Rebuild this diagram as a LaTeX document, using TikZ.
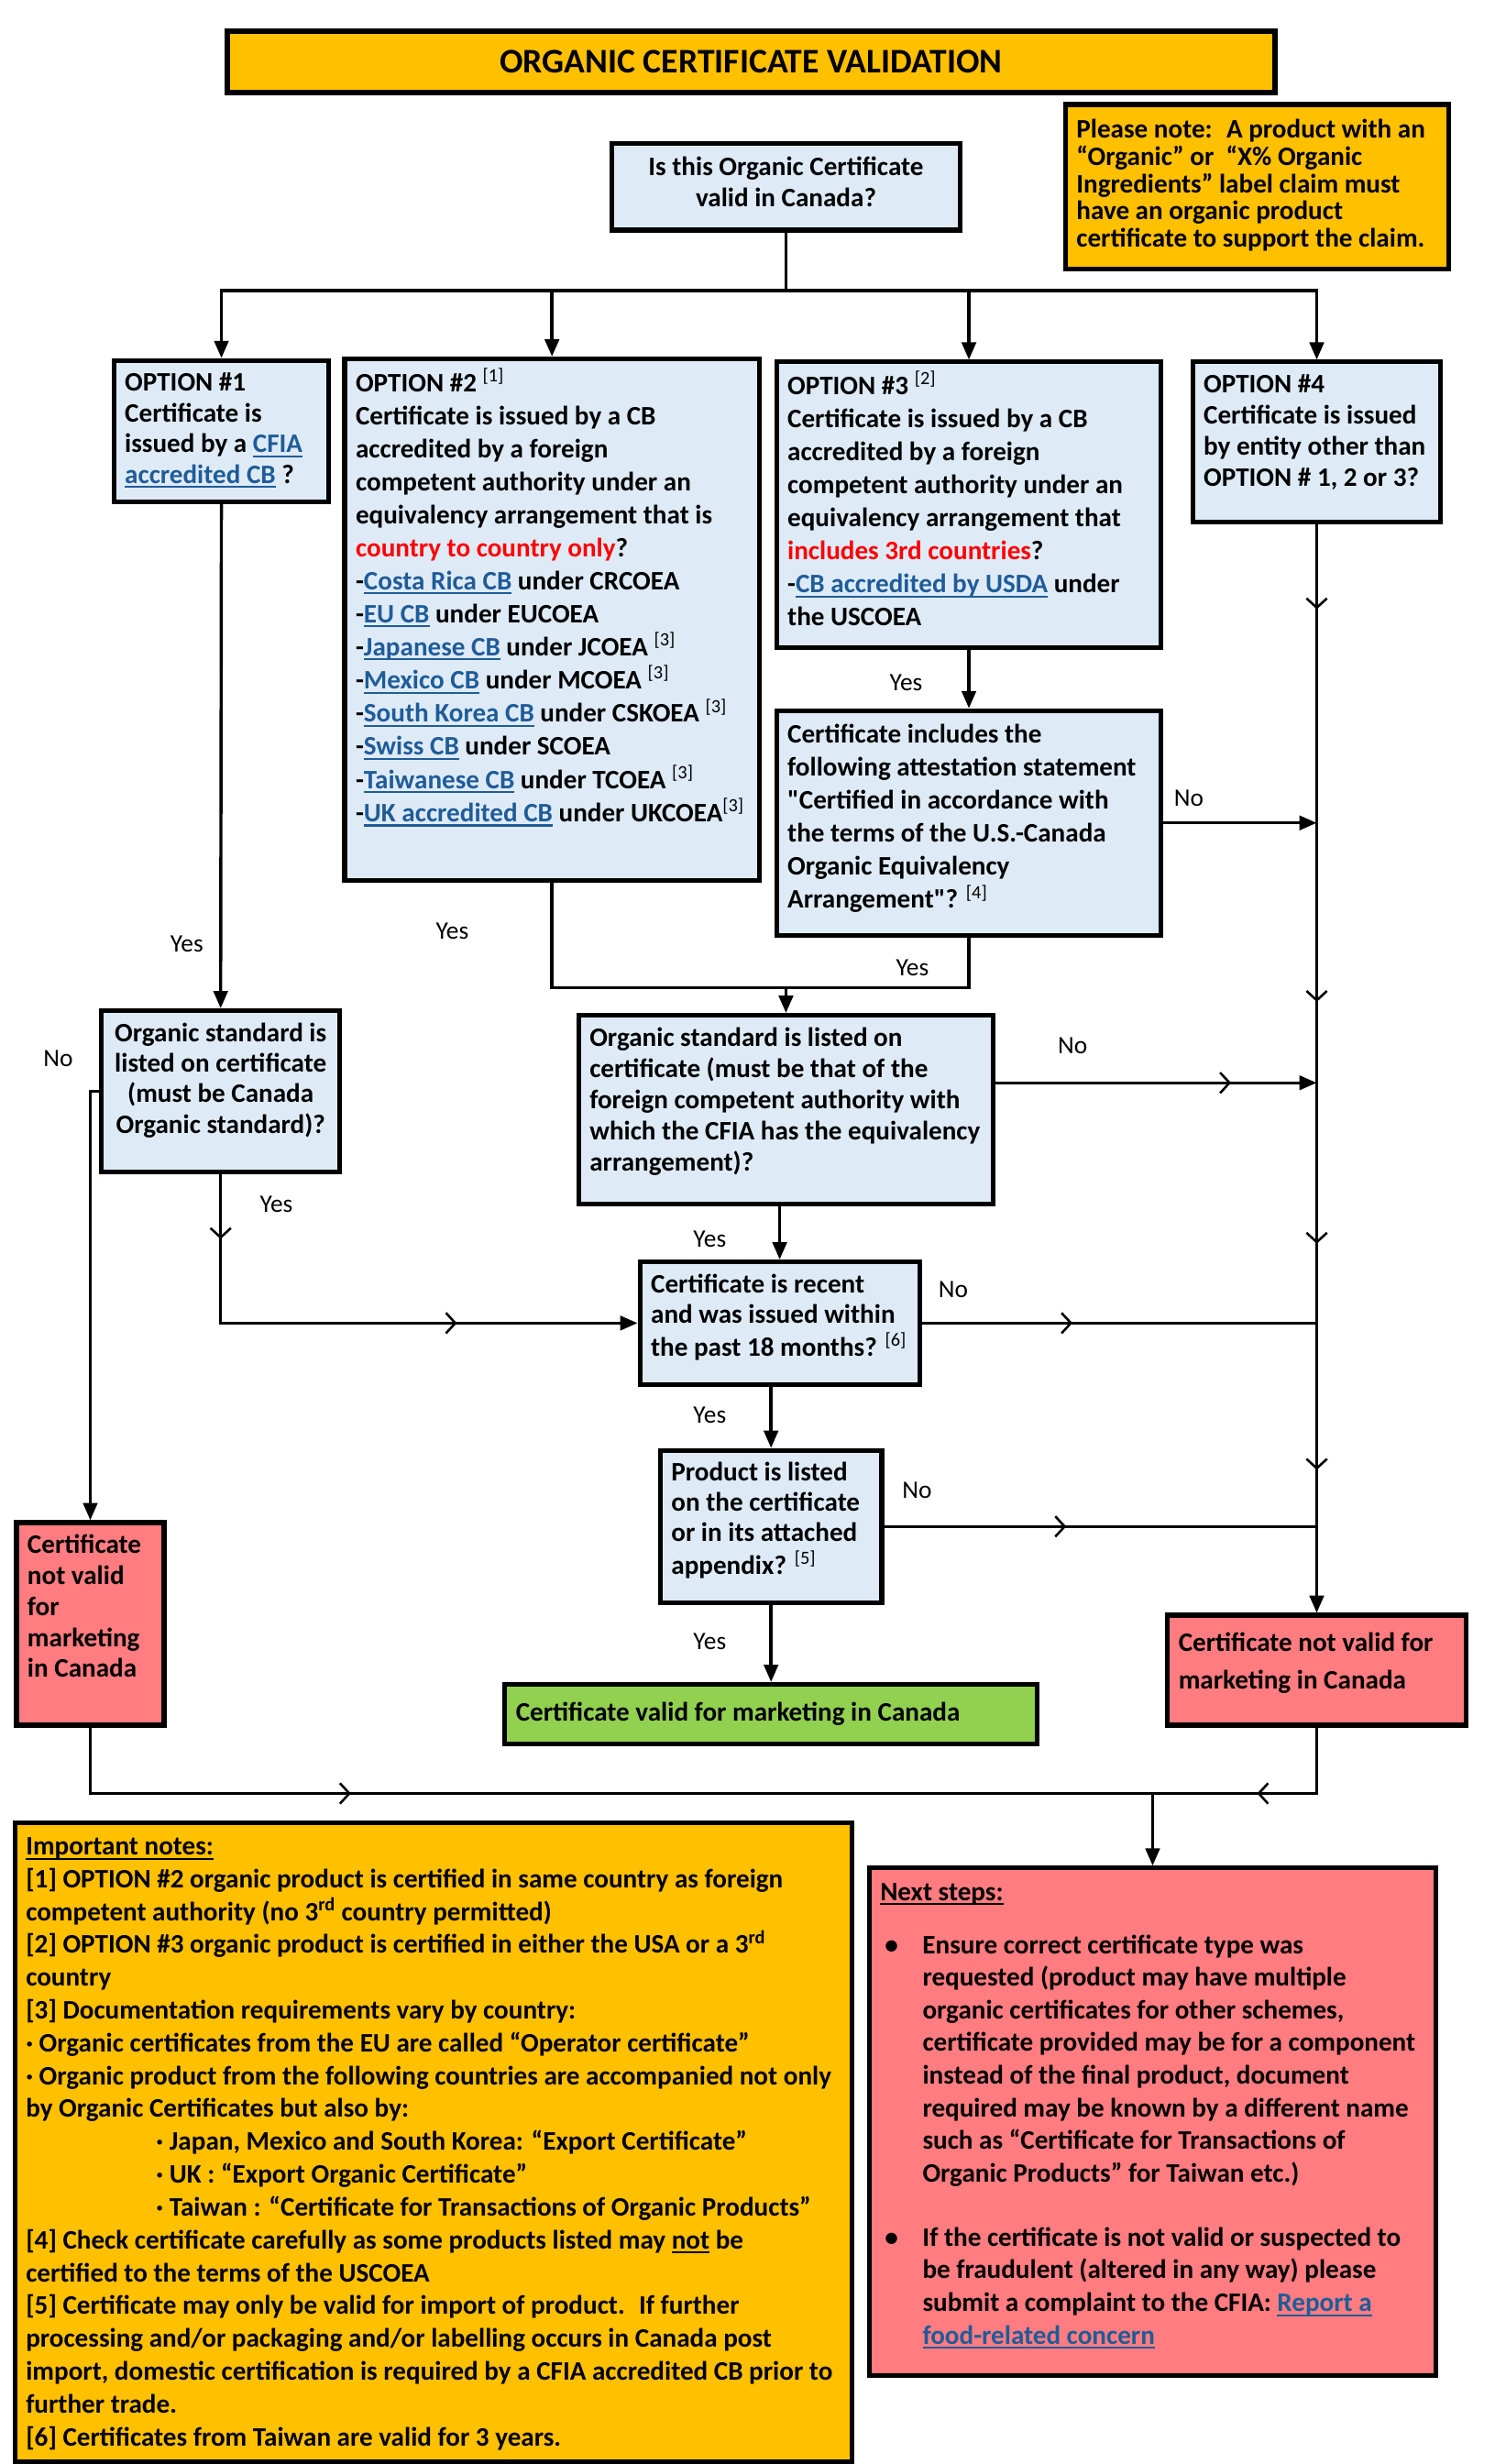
\documentclass[tikz,border=0pt]{standalone}
\usepackage{fontspec}
\setmainfont{Carlito}[Ligatures=TeXOff]
\usepackage{xcolor}
\usetikzlibrary{arrows.meta,decorations.markings}
\definecolor{qblue}{RGB}{222,235,247}
\definecolor{morange}{RGB}{255,192,0}
\definecolor{mpink}{RGB}{255,124,128}
\definecolor{mgreen}{RGB}{146,208,80}
\definecolor{mlink}{RGB}{31,92,153}
\definecolor{mred}{RGB}{255,0,0}

\newcommand{\undl}[1]{\leavevmode\setbox0=\hbox{#1}\rlap{\rule[-3pt]{\wd0}{1.2pt}}\box0\relax}
\newcommand{\lnk}[1]{{\color{mlink}\undl{#1}}}
\newcommand{\redtxt}[1]{{\color{mred}#1}}
\newcommand{\fnref}[1]{\textsuperscript{\mdseries[#1]}}
% [inner pos]{width}{height}{line skip}{rows}
\newcommand{\boxtext}[5][t]{\parbox[c][\dimexpr#3-12pt\relax][#1]{\dimexpr#2-14pt\relax}{\fontsize{17}{#4}\selectfont\begin{tabular}{@{}l@{}}#5\end{tabular}}}
\newcommand{\cboxtext}[4]{\parbox[c][\dimexpr#2-12pt\relax][t]{\dimexpr#1-14pt\relax}{\centering\fontsize{17}{#3}\selectfont\begin{tabular}{@{}c@{}}#4\end{tabular}}}

\begin{document}
\begin{tikzpicture}[x=1pt, y=-1pt]
  \tikzset{
    box/.style={draw, line width=3pt, anchor=north west, inner xsep=7pt, inner ysep=6pt, font=\bfseries},
    qbox/.style={box, fill=qblue},
    obox/.style={box, fill=morange},
    rbox/.style={box, fill=mpink},
    gbox/.style={box, fill=mgreen},
    conn/.style={draw, line width=2pt},
    arr/.style={-{Triangle[length=11pt,width=9pt]}},
    chev/.style={postaction={decorate,decoration={markings,mark=at position #1 with {\arrow[line width=1.5pt]{Straight Barb[length=6pt,width=13pt]}}}}},
    lbl/.style={font=\fontsize{16}{16}\selectfont, inner sep=0pt}
  }
  \fill[white] (0,0) rectangle (952,1568);

  \node[obox, line width=3.5pt, minimum width=667pt, minimum height=39pt, font=\bfseries\fontsize{22}{22}\selectfont] (title) at (143,18) {ORGANIC CERTIFICATE VALIDATION};
  \node[obox] (note) at (677,65) {\boxtext[c]{244pt}{105pt}{17pt}{Please note:~ A product with an\\“Organic” or~ “X\% Organic\\Ingredients” label claim must\\have an organic product\\certificate to support the claim.}};
  \node[qbox] (q0) at (388,90) {\cboxtext{222pt}{55pt}{20pt}{Is this Organic Certificate\\valid in Canada?}};

  % options
  \node[qbox] (opt1) at (71,228) {\boxtext{137pt}{90pt}{19.5pt}{OPTION \#1\\Certificate is\\issued by a \lnk{CFIA}\\\lnk{accredited CB} ?}};
  \node[qbox] (opt2) at (218,227) {\boxtext{264pt}{332pt}{21pt}{OPTION \#2 \fnref{1}\\Certificate is issued by a CB\\accredited by a foreign\\competent authority under an\\equivalency arrangement that is\\\redtxt{country to country only}?\\-\lnk{Costa Rica CB} under CRCOEA\\-\lnk{EU CB} under EUCOEA\\-\lnk{Japanese CB} under JCOEA \fnref{3}\\-\lnk{Mexico CB} under MCOEA \fnref{3}\\-\lnk{South Korea CB} under CSKOEA \fnref{3}\\-\lnk{Swiss CB} under SCOEA\\-\lnk{Taiwanese CB} under TCOEA \fnref{3}\\-\lnk{UK accredited CB} under UKCOEA\fnref{3}}};
  \node[qbox] (opt3) at (493,229) {\boxtext{245pt}{182pt}{21pt}{OPTION \#3 \fnref{2}\\Certificate is issued by a CB\\accredited by a foreign\\competent authority under an\\equivalency arrangement that\\\redtxt{includes 3rd countries}?\\-\lnk{CB accredited by USDA} under\\the USCOEA}};
  \node[qbox] (opt4) at (758,229) {\boxtext{158pt}{102pt}{19.7pt}{OPTION \#4\\Certificate is issued\\by entity other than\\OPTION \# 1, 2 or 3?}};
  \node[qbox] (att) at (493,451) {\boxtext{245pt}{143pt}{21pt}{Certificate includes the\\following attestation statement\\"Certified in accordance with\\the terms of the U.S.-Canada\\Organic Equivalency\\Arrangement"? \fnref{4}}};

  % questions
  \node[qbox] (q1) at (63,642) {\cboxtext{152pt}{103pt}{19.5pt}{Organic standard is\\listed on certificate\\(must be Canada\\Organic standard)?}};
  \node[qbox] (q3) at (367,645) {\boxtext{264pt}{120pt}{19.8pt}{Organic standard is listed on\\certificate (must be that of the\\foreign competent authority with\\which the CFIA has the equivalency\\arrangement)?}};
  \node[qbox] (q4) at (406,802) {\boxtext{178pt}{78pt}{19.5pt}{Certificate is recent\\and was issued within\\the past 18 months? \fnref{6}}};
  \node[qbox] (q5) at (419,922) {\boxtext{141pt}{97pt}{19.3pt}{Product is listed\\on the certificate\\or in its attached\\appendix? \fnref{5}}};

  % outcomes
  \node[gbox] (valid) at (320,1071) {\boxtext[c]{339pt}{38pt}{21pt}{Certificate valid for marketing in Canada}};
  \node[rbox] (notR) at (742,1027) {\boxtext{190pt}{70pt}{24pt}{Certificate not valid for\\marketing in Canada}};
  \node[rbox] (notL) at (9,968) {\boxtext{94pt}{129pt}{19.7pt}{Certificate\\not valid\\for\\marketing\\in Canada}};

  \node[obox] (notes) at (8,1159) {\boxtext{533pt}{407pt}{20.9pt}{\undl{Important notes:}\\{}[1] OPTION \#2 organic product is certified in same country as foreign\\competent authority (no 3\textsuperscript{rd} country permitted)\\{}[2] OPTION \#3 organic product is certified in either the USA or a 3\textsuperscript{rd}\\country\\{}[3] Documentation requirements vary by country:\\· Organic certificates from the EU are called “Operator certificate”\\· Organic product from the following countries are accompanied not only\\by Organic Certificates but also by:\\\hspace*{83pt}· Japan, Mexico and South Korea: “Export Certificate”\\\hspace*{83pt}· UK : “Export Organic Certificate”\\\hspace*{83pt}· Taiwan : “Certificate for Transactions of Organic Products”\\{}[4] Check certificate carefully as some products listed may \undl{not} be\\certified to the terms of the USCOEA\\{}[5] Certificate may only be valid for import of product.~ If further\\processing and/or packaging and/or labelling occurs in Canada post\\import, domestic certification is required by a CFIA accredited CB prior to\\further trade.\\{}[6] Certificates from Taiwan are valid for 3 years.}};
  \node[rbox] (next) at (552,1188) {\boxtext{361pt}{323pt}{20.8pt}{\undl{Next steps:}\\[13pt]\hspace*{3pt}\makebox[24pt][l]{•}Ensure correct certificate type was\\\hspace*{27pt}requested (product may have multiple\\\hspace*{27pt}organic certificates for other schemes,\\\hspace*{27pt}certificate provided may be for a component\\\hspace*{27pt}instead of the final product, document\\\hspace*{27pt}required may be known by a different name\\\hspace*{27pt}such as “Certificate for Transactions of\\\hspace*{27pt}Organic Products” for Taiwan etc.)\\[20pt]\hspace*{3pt}\makebox[24pt][l]{•}If the certificate is not valid or suspected to\\\hspace*{27pt}be fraudulent (altered in any way) please\\\hspace*{27pt}submit a complaint to the CFIA: \lnk{Report a}\\\hspace*{27pt}\lnk{food-related concern}}};

  % connectors
  \coordinate (bus) at (q0.south |- 0,185);
  \coordinate (merge) at (q3.north |- 0,629);
  \coordinate (join) at (next.north |- 0,1142);
  \draw[conn] (q0.south) -- (bus);
  \foreach \o in {opt1,opt2,opt3,opt4}
    \draw[conn,arr] (bus) -| (\o.north);
  \draw[conn,arr] (opt1.south) -- (q1.north);
  \draw[conn,arr] (opt3.south) -- (att.north);
  \draw[conn] (opt2.south) |- (merge);
  \draw[conn] (att.south) |- (merge);
  \draw[conn,arr] (merge) -- (q3.north);
  \draw[conn,arr] (q4.north |- q3.south) -- (q4.north);
  \draw[conn,arr] (q5.north |- q4.south) -- (q5.north);
  \draw[conn,arr] (q5.south) -- (valid.north);
  \draw[conn,arr,chev=54pt,chev=304pt,chev=458pt,chev=602pt] (opt4.south) -- (notR.north);
  \draw[conn,arr] (att.east) -- (att.east -| notR.north);
  \draw[conn,arr,chev=150pt] ([yshift=17pt]q3.east) -- ([yshift=17pt]q3.east -| notR.north);
  \draw[conn,chev=96pt] (q4.east) -- (q4.east -| notR.north);
  \draw[conn,chev=116pt] (q5.east) -- (q5.east -| notR.north);
  \draw[conn,arr,chev=41pt,chev=245pt] (q1.south) |- (q4.west);
  \draw[conn,arr] (q1.west) -| (notL.north);
  \draw[conn,chev=208pt] (notL.south) |- (join);
  \draw[conn,chev=80pt] (notR.south) |- (join);
  \draw[conn,arr] (join) -- (next.north);

  % yes / no labels
  \node[lbl] (yes3) at (577,435) {Yes};
  \node[lbl] (noatt) at (757,508) {No};
  \node[lbl] (yes2) at (288,593) {Yes};
  \node[lbl] (yesatt) at (581,616) {Yes};
  \node[lbl] (yes1) at (119,601) {Yes};
  \node[lbl] (noq1) at (37,674) {No};
  \node[lbl] (yesq1) at (176,767) {Yes};
  \node[lbl] (noq3) at (683,666) {No};
  \node[lbl] (yesq3) at (452,789) {Yes};
  \node[lbl] (noq4) at (607,821) {No};
  \node[lbl] (yesq4) at (452,901) {Yes};
  \node[lbl] (noq5) at (584,949) {No};
  \node[lbl] (yesq5) at (452,1045) {Yes};
\end{tikzpicture}
\end{document}
